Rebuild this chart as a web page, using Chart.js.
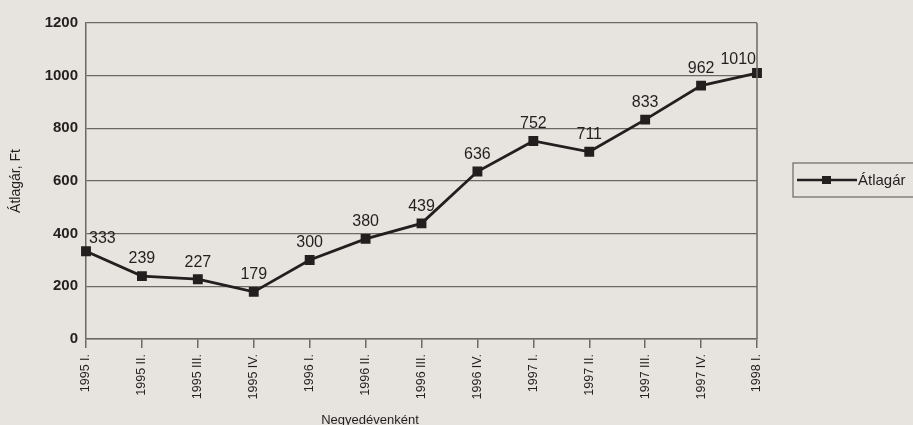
<!DOCTYPE html>
<html>
<head>
<meta charset="utf-8">
<script src="https://cdn.jsdelivr.net/npm/chart.js@4"></script>
<style>
  html, body { margin: 0; padding: 0; background: #e7e3df; }
  #wrap { width: 913px; height: 425px; position: relative; }
</style>
</head>
<body>
<div id="wrap"><canvas id="grafikon" width="913" height="425"></canvas></div>
<script>
// negyedévek
const negyedevek = ["1995 I.", "1995 II.", "1995 III.", "1995 IV.", "1996 I.", "1996 II.", "1996 III.",
                    "1996 IV.", "1997 I.", "1997 II.", "1997 III.", "1997 IV.", "1998 I."];
// átlagár, Ft
const atlagar = [333, 239, 227, 179, 300, 380, 439, 636, 752, 711, 833, 962, 1010];
const yTicks = [0, 200, 400, 600, 800, 1000, 1200];

const sotet = "#221f1e";
const racs = "#6d6864";

// keret, címkék, jelmagyarázat
const rajzolo = {
    id: "rajzolo",
    afterDatasetsDraw(chart) {
        const ctx = chart.ctx;
        const a = chart.chartArea;
        ctx.save();
        // jobb oldali keret
        ctx.strokeStyle = racs;
        ctx.lineWidth = 1.5;
        ctx.beginPath();
        ctx.moveTo(a.right, a.top);
        ctx.lineTo(a.right, a.bottom);
        ctx.stroke();

        // értékek a pontok fölött
        const meta = chart.getDatasetMeta(0);
        const utolso = meta.data.length - 1;
        ctx.fillStyle = sotet;
        ctx.font = "16px 'Liberation Sans', Arial, sans-serif";
        ctx.textBaseline = "bottom";
        meta.data.forEach((p, i) => {
            if (i === 0) {
                ctx.textAlign = "left";
                ctx.fillText(atlagar[i], p.x + 3, p.y - 5);
            } else if (i === utolso) {
                ctx.textAlign = "right";
                ctx.fillText(atlagar[i], p.x - 1, p.y - 5);
            } else {
                ctx.textAlign = "center";
                ctx.fillText(atlagar[i], p.x, p.y - 9);
            }
        });

        // x tengely címe
        ctx.font = "13px 'Liberation Sans', Arial, sans-serif";
        ctx.textAlign = "center";
        ctx.textBaseline = "alphabetic";
        ctx.fillText("Negyedévenként", 370, 424);

        // jelmagyarázat
        const lx = 793, ly = 163;
        ctx.strokeStyle = racs;
        ctx.lineWidth = 1.2;
        ctx.strokeRect(lx, ly, 140, 34);
        ctx.strokeStyle = sotet;
        ctx.lineWidth = 2.5;
        ctx.beginPath();
        ctx.moveTo(lx + 4, ly + 17);
        ctx.lineTo(lx + 64, ly + 17);
        ctx.stroke();
        ctx.fillStyle = sotet;
        ctx.fillRect(lx + 29, ly + 13, 9, 8);
        ctx.font = "15px 'Liberation Sans', Arial, sans-serif";
        ctx.textAlign = "left";
        ctx.textBaseline = "middle";
        ctx.fillText(chart.data.datasets[0].label, lx + 65, ly + 18);
        ctx.restore();
    }
};

new Chart(document.getElementById("grafikon"), {
    type: "line",
    data: {
        labels: negyedevek,
        datasets: [{
            label: "Átlagár",
            data: atlagar,
            borderColor: sotet,
            backgroundColor: sotet,
            borderWidth: 2.8,
            pointStyle: "rect",
            pointRadius: 5,
            pointHoverRadius: 5,
            tension: 0
        }]
    },
    options: {
        responsive: false,
        animation: false,
        layout: { padding: { top: 23, right: 156, left: 8, bottom: 0 } },
        plugins: {
            legend: { display: false },
            tooltip: { enabled: false }
        },
        scales: {
            x: {
                offset: false,
                grid: { display: true, drawOnChartArea: false, color: racs, lineWidth: 1.5, tickLength: 9 },
                border: { color: racs, width: 1.5 },
                ticks: {
                    color: sotet,
                    maxRotation: 90,
                    minRotation: 90,
                    autoSkip: false,
                    padding: 6,
                    font: { family: "'Liberation Sans', Arial", size: 12.5 }
                },
                afterFit(scale) { scale.height = 86; }
            },
            y: {
                min: 0,
                max: 1200,
                afterBuildTicks(scale) { scale.ticks = yTicks.map(v => ({ value: v })); },
                grid: { color: racs, lineWidth: 1.3, drawTicks: false },
                border: { color: racs, width: 1.5 },
                ticks: {
                    color: sotet,
                    padding: 8,
                    callback: v => String(v),
                    font: { family: "'Liberation Sans', Arial", size: 15, weight: "bold" }
                },
                title: {
                    display: true,
                    text: "Átlagár, Ft",
                    color: sotet,
                    padding: { top: 0, bottom: 6 },
                    font: { family: "'Liberation Sans', Arial", size: 14 }
                },
                afterFit(scale) { scale.width = 78; }
            }
        }
    },
    plugins: [rajzolo]
});
</script>
</body>
</html>
